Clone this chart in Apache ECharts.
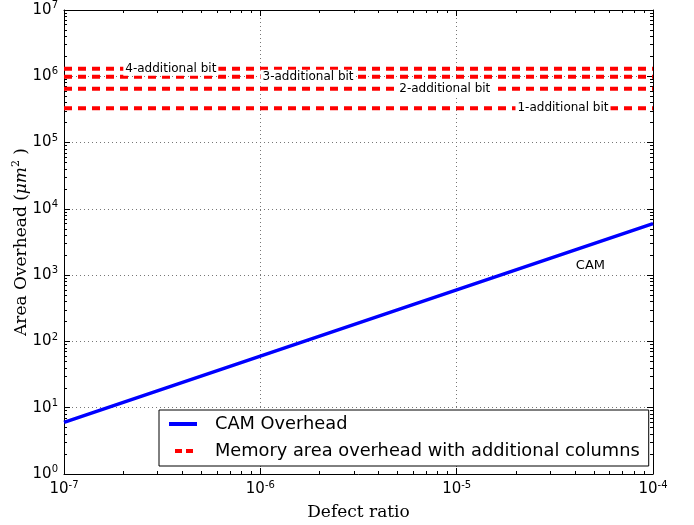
<!DOCTYPE html>
<html><head><meta charset="utf-8">
<script src="https://cdn.jsdelivr.net/npm/echarts@6/dist/echarts.min.js"></script>
<style>html,body{margin:0;padding:0;background:#fff}#c{width:694px;height:525px}</style>
</head><body><div id="c"></div>
<script>
// ---- data ----
const defectRatio = [1e-7, 1e-6, 1e-5, 1e-4];
const camOverhead = [6, 60, 600, 6000];
const bitNames = ['1-additional bit', '2-additional bit', '3-additional bit', '4-additional bit'];
const memOverhead = [3.3e5, 6.5e5, 9.8e5, 1.3e6];
const bitLabelAt = [3.48e-5, 8.7e-6, 1.75e-6, 3.5e-7];
const camLabel = 'CAM';
const camLabelAt = [4.8e-5, 1400];
const xTickExp = [-7, -6, -5, -4];
const yTickExp = [0, 1, 2, 3, 4, 5, 6, 7];
const camName = 'CAM Overhead';
const memName = 'Memory area overhead with additional columns';

// ---- helpers ----
function minorVals(exps) {
  const out = [];
  for (let i = 0; i < exps.length - 1; i++) {
    for (let m = 2; m <= 9; m++) out.push(m * Math.pow(10, exps[i]));
  }
  return out;
}
const supRich = { s: { fontSize: 10, padding: [0, 0, 9, 0], verticalAlign: 'bottom', fontFamily: 'DejaVu Sans', color: '#000' } };
function powFmt(v) { const n = Math.round(Math.log10(v)); return '10{s|' + n + '}'; }

const xMin = Math.pow(10, xTickExp[0]), xMax = Math.pow(10, xTickExp[xTickExp.length - 1]);
const yMin = Math.pow(10, yTickExp[0]), yMax = Math.pow(10, yTickExp[yTickExp.length - 1]);

function baseAxis(min, max, pos, major) {
  return {
    type: 'log', logBase: 10, min: min, max: max, position: pos,
    axisLine: { show: major, lineStyle: { color: '#000', width: 1 } },
    axisTick: { show: true, inside: true, length: 6, lineStyle: { color: '#000', width: 1 } },
    axisLabel: { show: false },
    splitLine: { show: false }
  };
}
function minorAxis(min, max, pos, exps) {
  const a = baseAxis(min, max, pos, false);
  a.axisTick = { show: true, inside: true, length: 3, customValues: minorVals(exps), lineStyle: { color: '#000', width: 1 } };
  return a;
}

const xMain = baseAxis(xMin, xMax, 'bottom', true);
xMain.axisLabel = { show: true, formatter: powFmt, rich: supRich, color: '#000', fontSize: 15, fontFamily: 'DejaVu Sans', margin: 6 };
xMain.splitLine = { show: true, lineStyle: { color: '#777', type: [1, 3], width: 1 } };
xMain.name = 'Defect ratio';
xMain.nameLocation = 'middle';
xMain.nameGap = 30;
xMain.nameMoveOverlap = false;
xMain.nameTextStyle = { fontFamily: 'DejaVu Serif', fontSize: 17, color: '#000' };

const yMain = baseAxis(yMin, yMax, 'left', true);
yMain.axisLabel = { show: true, formatter: powFmt, rich: supRich, color: '#000', fontSize: 15, fontFamily: 'DejaVu Sans', margin: 6 };
yMain.splitLine = { show: true, lineStyle: { color: '#777', type: [1, 3], width: 1 } };
yMain.name = 'Area Overhead ({i|μm}{s|2} )';
yMain.nameLocation = 'middle';
yMain.nameGap = 32;
yMain.nameMoveOverlap = false;
yMain.nameTextStyle = {
  fontFamily: 'DejaVu Serif', fontSize: 17, color: '#000',
  rich: {
    i: { fontFamily: 'DejaVu Serif', fontStyle: 'italic', fontSize: 17, color: '#000' },
    s: { fontFamily: 'DejaVu Serif', fontSize: 11, padding: [0, 0, 10, 0], verticalAlign: 'bottom', color: '#000' }
  }
};

const series = [{
  name: camName, type: 'line', xAxisIndex: 0, yAxisIndex: 0,
  data: defectRatio.map((x, i) => [x, camOverhead[i]]),
  symbol: 'none', lineStyle: { color: '#0000ff', width: 3.5 }, itemStyle: { color: '#0000ff' },
  z: 3,
  markPoint: {
    symbol: 'circle', symbolSize: 1, itemStyle: { color: 'rgba(0,0,0,0)' },
    label: { show: true, position: 'inside', formatter: camLabel, color: '#000', fontSize: 13, fontFamily: 'DejaVu Sans' },
    data: [{ coord: camLabelAt }]
  }
}];
memOverhead.forEach((v, i) => {
  series.push({
    name: memName, type: 'line', xAxisIndex: 0, yAxisIndex: 0,
    data: [[xMin, v], [xMax, v]],
    symbol: 'none', lineStyle: { color: '#ff0000', width: 4, type: [8, 6] }, itemStyle: { color: '#ff0000' },
    z: 2,
    markPoint: {
      symbol: 'circle', symbolSize: 1, itemStyle: { color: 'rgba(0,0,0,0)' },
      label: { show: true, position: 'inside', formatter: bitNames[i], color: '#000', fontSize: 12, fontFamily: 'DejaVu Sans', backgroundColor: '#fff', padding: [1, 2] },
      data: [{ coord: [bitLabelAt[i], v] }]
    }
  });
});

const chart = echarts.init(document.getElementById('c'), null, { renderer: 'canvas' });
chart.setOption({
  animation: false,
  backgroundColor: '#fff',
  grid: { left: 64, right: 41, top: 10, bottom: 51, containLabel: false, outerBoundsMode: 'none' },
  legend: {
    data: [
      { name: camName, icon: 'path://M0,0h28v4h-28z', itemStyle: { color: '#0000ff' } },
      { name: memName, icon: 'path://M0,0M28,4M6,0h7v4h-7zM17,0h7v4h-7z', itemStyle: { color: '#ff0000' } }
    ],
    orient: 'vertical', left: 159, top: 410,
    padding: [5, 9, 6, 10], itemGap: 9, itemWidth: 28, itemHeight: 4,
    backgroundColor: '#fff', borderColor: '#000', borderWidth: 1, borderRadius: 0,
    textStyle: { fontSize: 17.8, color: '#000', fontFamily: 'DejaVu Sans', padding: [0, 0, 0, 13] }
  },
  xAxis: [xMain, baseAxis(xMin, xMax, 'top', true), minorAxis(xMin, xMax, 'bottom', xTickExp), minorAxis(xMin, xMax, 'top', xTickExp)],
  yAxis: [yMain, baseAxis(yMin, yMax, 'right', true), minorAxis(yMin, yMax, 'left', yTickExp), minorAxis(yMin, yMax, 'right', yTickExp)],
  series: series
});
</script>
</body></html>
